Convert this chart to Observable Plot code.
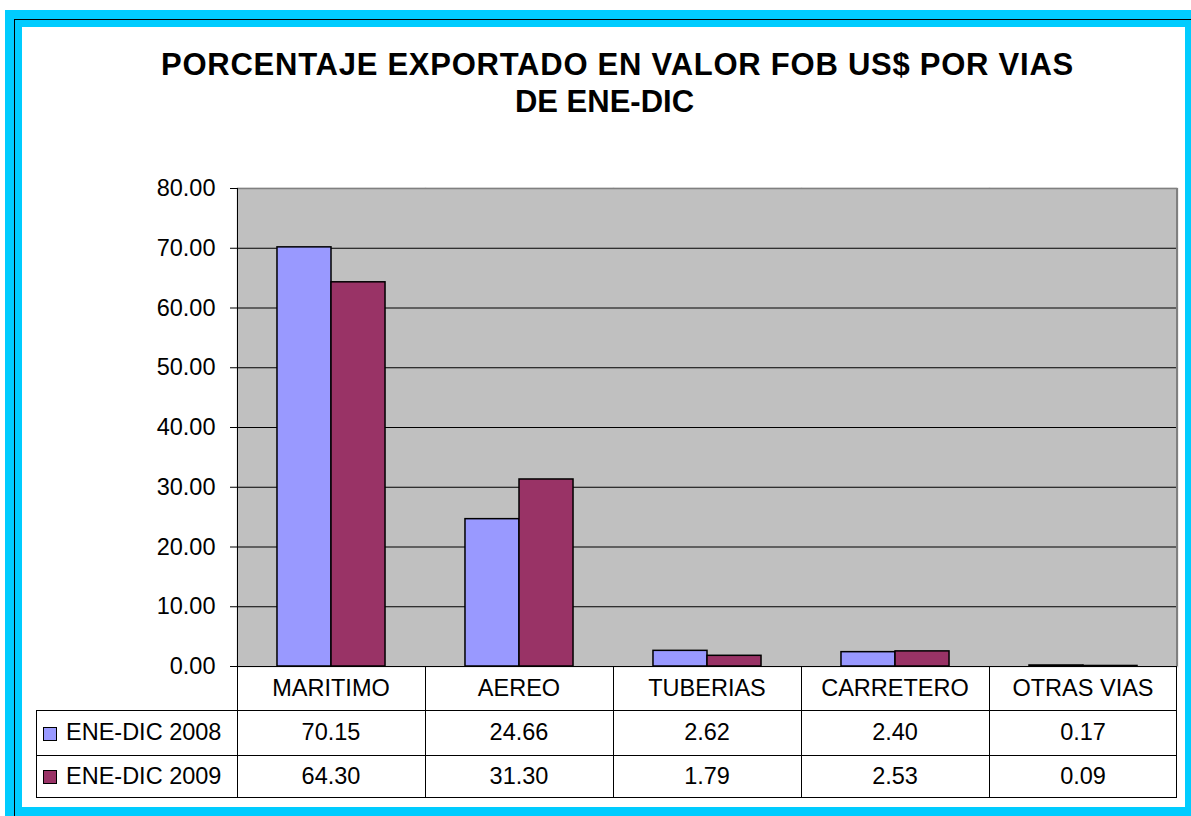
<!DOCTYPE html>
<html><head><meta charset="utf-8">
<script src="https://cdn.jsdelivr.net/npm/d3@7"></script>
<script src="https://cdn.jsdelivr.net/npm/@observablehq/plot@0.6"></script>
<style>
html,body{margin:0;padding:0;background:#fff;width:1191px;height:816px;overflow:hidden;font-family:"Liberation Sans",Arial,sans-serif;}
#outer{position:absolute;left:5px;top:10px;width:1200px;height:820px;background:#00CCFF;}
#blk{position:absolute;left:14px;top:19px;width:1200px;height:820px;border-left:1px solid #000;border-top:1px solid #000;box-sizing:border-box;}
#white{position:absolute;left:22px;top:27px;width:1163px;height:780px;background:#fff;}
.t{position:absolute;font-weight:bold;font-size:31px;line-height:31px;color:#000;white-space:nowrap;text-align:center;}
#chart{position:absolute;left:0;top:150px;}
.ln{position:absolute;background:#000;}
.cell{position:absolute;font-size:23.5px;color:#000;text-align:center;white-space:nowrap;}
.sw{position:absolute;width:14px;height:14px;border:1px solid #000;box-sizing:border-box;}
</style></head>
<body>
<div id="outer"></div>
<div id="blk"></div>
<div id="white"></div>
<div class="t" style="left:0;width:1235px;top:49px;letter-spacing:0.75px;">PORCENTAJE EXPORTADO EN VALOR FOB US$ POR VIAS</div>
<div class="t" style="left:0;width:1209px;top:86px;">DE ENE-DIC</div>
<div id="chart"></div>
<div id="table"></div>
<script>
const categories = ["MARITIMO", "AEREO", "TUBERIAS", "CARRETERO", "OTRAS VIAS"];
const series = ["ENE-DIC 2008", "ENE-DIC 2009"];
const values2008 = [70.15, 24.66, 2.62, 2.40, 0.17];
const values2009 = [64.30, 31.30, 1.79, 2.53, 0.09];
const yTicks = [0, 10, 20, 30, 40, 50, 60, 70, 80];
const colors = ["#9999FF", "#993366"];

const data = categories.flatMap((c, i) => [
  {cat: c, s: series[0], v: values2008[i]},
  {cat: c, s: series[1], v: values2009[i]}
]);

const chart = Plot.plot({
  width: 1191, height: 530,
  marginLeft: 237, marginRight: 14, marginTop: 38, marginBottom: 14,
  style: {background: "transparent", fontFamily: "Liberation Sans, Arial, sans-serif", fontSize: "23.5px", color: "#000", overflow: "visible"},
  fx: {domain: categories, padding: 0, axis: null, round: false},
  x: {domain: series, paddingInner: 0, paddingOuter: 0.74, axis: null, round: false},
  y: {domain: [0, 80], axis: null},
  color: {domain: series, range: colors},
  marks: [
    Plot.frame({fill: "#C0C0C0", stroke: "#C0C0C0", strokeWidth: 1.5}),
    Plot.ruleY(yTicks.filter(t => t < 80), {stroke: "#000", strokeWidth: 1}),
    Plot.ruleY([80], {stroke: "#808080", strokeWidth: 1.5}),
    Plot.axisY({ticks: yTicks, tickFormat: d3.format(".2f"), tickSize: 7, tickPadding: 15, fontSize: 23.5, anchor: "left", label: null, stroke: "#000", fill: "#000"}),
    Plot.barY(data, {fx: "cat", x: "s", y: "v", fill: "s", stroke: "#000", strokeWidth: 1.5})
  ]
});
document.getElementById("chart").appendChild(chart);

// table built from the chart's own scales
const top0 = 150;
const fx = chart.scale("fx");
const ys = chart.scale("y");
const bw = fx.bandwidth;
const yTop = top0 + ys.apply(80);
const yZero = top0 + ys.apply(0);
const leftPlot = fx.apply(categories[0]);
const rightPlot = fx.apply(categories[categories.length - 1]) + bw;
const rowH = [44, 45, 42];
const r1 = yZero + rowH[0], r2 = r1 + rowH[1], r3 = r2 + rowH[2];
const tableLeft = 36;
const T = document.getElementById("table");
function line(x, y, w, h, color) {
  const d = document.createElement("div");
  d.className = "ln";
  Object.assign(d.style, {left: x + "px", top: y + "px", width: w + "px", height: h + "px"});
  if (color) d.style.background = color;
  T.appendChild(d);
}
function cell(text, x, y, w, h, align) {
  const d = document.createElement("div");
  d.className = "cell";
  Object.assign(d.style, {left: x + "px", top: y + "px", width: w + "px", height: h + "px", lineHeight: h + "px"});
  if (align) d.style.textAlign = align;
  d.textContent = text;
  T.appendChild(d);
}
// plot-area borders
line(leftPlot, yTop, 1, yZero - yTop + 1);
line(rightPlot - 1, yTop, 1.5, yZero - yTop, "#808080");
// table horizontal lines
[r1, r2, r3].forEach(y => line(tableLeft, y, rightPlot - tableLeft, 1));
// table vertical lines
line(tableLeft, r1, 1, r3 - r1 + 1);
categories.forEach(c => line(fx.apply(c), yZero, 1, r3 - yZero + 1));
line(rightPlot - 1, yZero, 1, r3 - yZero + 1);
// header
categories.forEach(c => cell(c, fx.apply(c), yZero, bw, rowH[0]));
// rows
const rows = [values2008, values2009];
const rowTops = [r1, r2];
rows.forEach((vals, k) => {
  const sw = document.createElement("div");
  sw.className = "sw";
  sw.style.left = "43px";
  sw.style.top = (rowTops[k] + rowH[k + 1] / 2 - 6) + "px";
  sw.style.background = colors[k];
  T.appendChild(sw);
  cell(series[k], 66, rowTops[k], leftPlot - 66, rowH[k + 1], "left");
  vals.forEach((v, i) => cell(v.toFixed(2), fx.apply(categories[i]), rowTops[k], bw, rowH[k + 1]));
});
</script>
</body></html>
